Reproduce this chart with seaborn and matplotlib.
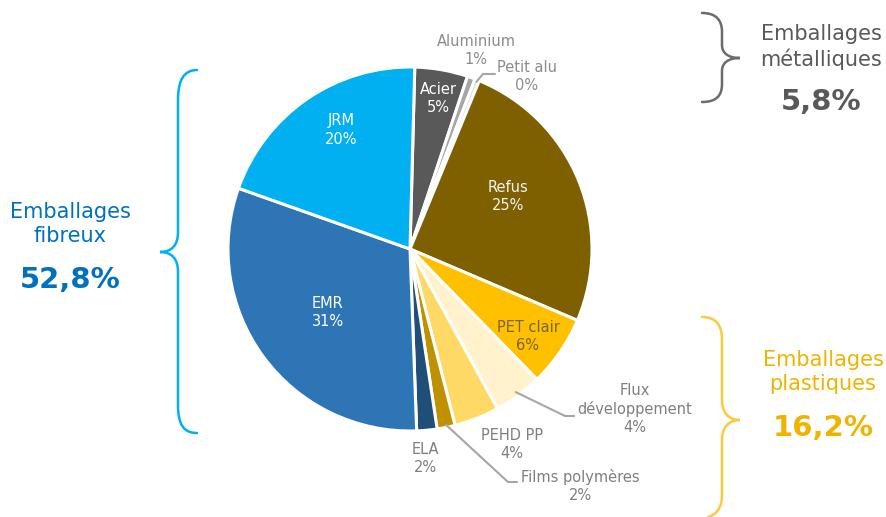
import numpy as np
import matplotlib
matplotlib.use("Agg")
import matplotlib.pyplot as plt
from matplotlib.path import Path
from matplotlib.patches import PathPatch
import seaborn as sns

sns.set_theme(style="white")
plt.rcParams['font.family'] = ['DejaVu Sans']

# ---- data ----
categories = ["Acier", "Aluminium", "Petit alu", "Refus", "PET clair",
              "Flux\ndéveloppement", "PEHD PP", "Films polymères", "ELA", "EMR", "JRM"]
values = [4.7, 0.7, 0.4, 25.2, 6.3, 4.3, 4.0, 1.6, 1.8, 31.0, 20.0]
colors = ["#595959", "#A6A6A6", "#D9D9D9", "#7F6000", "#FFC000",
          "#FFF2CC", "#FFD966", "#BF9000", "#1F4E79", "#2E75B6", "#00B0F0"]
group_names = ["Emballages\nfibreux", "Emballages\nmétalliques", "Emballages\nplastiques"]
group_totals = ["52,8%", "5,8%", "16,2%"]

W, H = 886, 517
fig = plt.figure(figsize=(W / 100, H / 100), dpi=100)
ax = fig.add_axes([0, 0, 1, 1])

def Y(y):
    return H - y

cx, cy, R = 410, Y(249), 182
start = 88.5
ax.pie(values, colors=colors, startangle=start, counterclock=False,
       center=(cx, cy), radius=R,
       wedgeprops=dict(edgecolor="white", linewidth=2.2))
ax.set_xlim(0, W)
ax.set_ylim(0, H)
ax.set_aspect("equal")
ax.axis("off")

pct = [f"{round(v)}%" for v in values]
labels = [f"{c}\n{p}" for c, p in zip(categories, pct)]

# mid angles (matplotlib degrees)
cum = np.cumsum([0] + values)
mid = [start - 3.6 * (cum[i] + cum[i + 1]) / 2 for i in range(len(values))]

def edge_pt(i, r=R):
    a = np.deg2rad(mid[i])
    return cx + r * np.cos(a), cy + r * np.sin(a)

# label positions (pixel, top-origin) and colors
lab_pos = {
    0: (438, 99), 1: (476, 51), 2: (527, 77), 3: (508, 197), 4: (528, 336),
    5: (635, 409), 6: (512, 444), 7: (580, 486), 8: (425, 459), 9: (328, 312), 10: (341, 130),
}
lab_col = {0: "white", 1: "#8C8C8C", 2: "#8C8C8C", 3: "#F2F2F2", 4: "#7A6530",
           5: "#7F7F7F", 6: "#7F7F7F", 7: "#7F7F7F", 8: "#7F7F7F", 9: "white", 10: "white"}
for i, (x, y) in lab_pos.items():
    ax.text(x, Y(y), labels[i], ha="center", va="center", fontsize=10.5,
            color=lab_col[i], linespacing=1.25)

# leader lines
lc = "#A6A6A6"
x0, y0 = edge_pt(2, R - 2)
ax.plot([x0, 483, 495], [y0, Y(74), Y(74)], color=lc, lw=1.5)
x0, y0 = edge_pt(5, R - 4)
ax.plot([x0, 565, 574], [y0, Y(416), Y(416)], color=lc, lw=1.5)
x0, y0 = edge_pt(7, R - 3)
ax.plot([x0, 508, 517], [y0, Y(482), Y(482)], color=lc, lw=1.5)

# braces
def brace(pts, color):
    verts = [(x, Y(y)) for x, y in pts]
    codes = [Path.MOVETO] + [Path.CURVE4] * 3 + [Path.LINETO] + [Path.CURVE4] * 6 + \
            [Path.LINETO] + [Path.CURVE4] * 3
    ax.add_patch(PathPatch(Path(verts, codes), fill=False, edgecolor=color, lw=1.8,
                           capstyle="round"))

brace([(197, 70), (184, 70), (178, 80), (178, 100), (178, 232),
       (178, 245), (172, 252), (160, 252), (172, 252), (178, 259), (178, 272),
       (178, 405), (178, 425), (184, 433), (197, 433)], "#00B0F0")
brace([(702, 13), (716, 13), (722, 20), (722, 32), (722, 45),
       (722, 53), (728, 58), (740, 58), (728, 58), (722, 63), (722, 71),
       (722, 84), (722, 96), (716, 102), (702, 102)], "#6B6B6B")
brace([(702, 317), (716, 317), (722, 325), (722, 340), (722, 400),
       (722, 412), (728, 420), (740, 420), (728, 420), (722, 428), (722, 440),
       (722, 495), (722, 508), (716, 515), (708, 517)], "#FFC83D")

# group texts
gcols = ["#0070C0", "#595959", "#F0B400"]
gpos = [(70, 224, 280), (821, 47, 102), (823, 372, 428)]
for name, tot, col, (x, yn, yt) in zip(group_names, group_totals, gcols, gpos):
    ax.text(x, Y(yn), name, ha="center", va="center", fontsize=15, color=col,
            linespacing=1.2)
    ax.text(x, Y(yt), tot, ha="center", va="center", fontsize=21, color=col,
            fontweight="bold")

fig.savefig("out.png", dpi=100)
